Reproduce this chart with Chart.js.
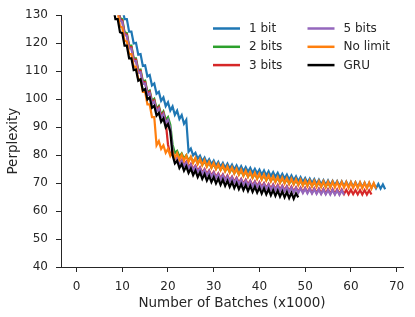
<!DOCTYPE html>
<html>
<head>
<meta charset="utf-8">
<script src="https://cdn.jsdelivr.net/npm/chart.js@4"></script>
<style>
  html, body { margin: 0; padding: 0; background: #fff; }
  #chart { display: block; }
</style>
</head>
<body>
<canvas id="chart" width="415" height="317" style="width:415px;height:317px"></canvas>
<script>
// Batch positions (x1000), shared by every run
const batches = [
    8, 8.5, 9, 9.5, 10, 10.5, 11, 11.5, 12, 12.5,
    13, 13.5, 14, 14.5, 15, 15.5, 16, 16.5, 17, 17.5,
    18, 18.5, 19, 19.5, 20, 20.5, 21, 21.5, 22, 22.5,
    23, 23.5, 24, 24.5, 25, 25.5, 26, 26.5, 27, 27.5,
    28, 28.5, 29, 29.5, 30, 30.5, 31, 31.5, 32, 32.5,
    33, 33.5, 34, 34.5, 35, 35.5, 36, 36.5, 37, 37.5,
    38, 38.5, 39, 39.5, 40, 40.5, 41, 41.5, 42, 42.5,
    43, 43.5, 44, 44.5, 45, 45.5, 46, 46.5, 47, 47.5,
    48, 48.5, 49, 49.5, 50, 50.5, 51, 51.5, 52, 52.5,
    53, 53.5, 54, 54.5, 55, 55.5, 56, 56.5, 57, 57.5,
    58, 58.5, 59, 59.5, 60, 60.5, 61, 61.5, 62, 62.5,
    63, 63.5, 64, 64.5, 65, 65.5, 66, 66.5, 67, 67.5,
    68,
];

// Perplexity per run
const oneBit = [
    142.1, 137.9, 138.1, 133.4, 133.1, 128.6, 128.6, 124.1, 124.1, 119.9,
    120.1, 115.9, 116.1, 111.9, 112.1, 108.1, 108.6, 104.9, 105.6, 101.9,
    102.6, 99.4, 100.6, 97.5, 98.9, 95.9, 97.4, 94.4, 95.9, 92.9,
    94.3, 91.2, 92.6, 81.2, 82.3, 79.9, 80.8, 78.7, 79.8, 77.8,
    79.1, 77.2, 78.5, 76.7, 78, 76.2, 77.6, 75.8, 77.2, 75.4,
    76.9, 75.2, 76.6, 74.8, 76.3, 74.5, 76, 74.2, 75.7, 74,
    75.4, 73.6, 75.1, 73.4, 74.8, 73, 74.5, 72.7, 74.2, 72.4,
    73.9, 72.2, 73.6, 71.8, 73.3, 71.6, 73, 71.2, 72.7, 71,
    72.4, 70.6, 72.1, 70.4, 71.8, 70.1, 71.6, 69.9, 71.4, 69.7,
    71.2, 69.5, 71, 69.3, 70.9, 69.2, 70.8, 69.2, 70.7, 69,
    70.6, 68.9, 70.5, 68.8, 70.4, 68.7, 70.3, 68.6, 70.2, 68.5,
    70.1, 68.4, 70, 68.3, 69.8, 68.1, 69.7, 68, 69.5, 67.8,
];
const twoBits = [
    139.1, 134.4, 134.1, 129.1, 128.6, 123.9, 123.6, 119.1, 119.1, 114.6,
    114.6, 110.4, 110.6, 106.4, 106.6, 102.6, 103.1, 99.4, 100.1, 96.6,
    97.6, 94.4, 95.6, 92.6, 93.6, 90.9, 83.8, 80.7, 81.5, 79.5,
    80.6, 78.7, 79.9, 78, 79.3, 77.5, 78.8, 77, 78.3, 76.5,
    77.8, 76, 77.3, 75.5, 76.8, 75.1, 76.4, 74.7, 76, 74.3,
    75.6, 73.9, 75.2, 73.5, 74.8, 73.1, 74.4, 72.7, 74, 72.3,
    73.6, 71.95, 73.3, 71.65, 73, 71.35, 72.7, 71.05, 72.4, 70.75,
    72.1, 70.45, 71.8, 70.2, 71.6, 70, 71.4, 69.8, 71.2, 69.6,
    71, 69.4, 70.8, 69.2, 70.6, 69.05, 70.5, 68.95, 70.4, 68.85,
    70.3, 68.75, 70.2, 68.65, 70.1, 68.6, 70.1,
];
const threeBits = [
    138.6, 133.9, 133.6, 128.6, 128.1, 123.4, 123.1, 118.6, 118.6, 114.1,
    114.1, 109.9, 110.1, 105.9, 106.1, 102.1, 102.6, 98.9, 99.6, 96.1,
    97.1, 93.9, 95.1, 91.9, 83.8, 80.2, 80.3, 78.4, 79.1, 77.3,
    78.3, 76.4, 77.6, 75.65, 76.9, 74.95, 76.2, 74.3, 75.6, 73.7,
    75, 73.15, 74.5, 72.65, 74, 72.15, 73.5, 71.7, 73.1, 71.3,
    72.7, 70.9, 72.3, 70.5, 71.9, 70.1, 71.5, 69.75, 71.2, 69.45,
    70.9, 69.15, 70.6, 68.85, 70.3, 68.55, 70, 68.25, 69.7, 68,
    69.5, 67.8, 69.3, 67.6, 69.1, 67.4, 68.9, 67.2, 68.7, 67,
    68.5, 66.85, 68.4, 66.75, 68.3, 66.65, 68.2, 66.55, 68.1, 66.45,
    68, 66.35, 67.9, 66.25, 67.8, 66.2, 67.8, 66.15, 67.7, 66.1,
    67.7, 66.05, 67.6, 66, 67.6, 66, 67.5, 65.95, 67.5, 65.9,
    67.5, 65.9, 67.4, 65.9,
];
const fiveBits = [
    138.1, 133.4, 133.1, 128.1, 127.6, 122.9, 122.6, 118.1, 118.1, 113.6,
    113.6, 109.4, 109.6, 105.4, 105.6, 101.6, 102.1, 98.4, 99.1, 95.6,
    96.6, 93.4, 94.6, 91.4, 92.6, 89.4, 81.8, 78.8, 79.1, 77,
    78.1, 76.1, 77.3, 75.35, 76.6, 74.65, 75.9, 74, 75.3, 73.4,
    74.7, 72.85, 74.2, 72.35, 73.7, 71.85, 73.2, 71.4, 72.8, 71,
    72.4, 70.6, 72, 70.2, 71.6, 69.8, 71.2, 69.45, 70.9, 69.15,
    70.6, 68.85, 70.3, 68.55, 70, 68.25, 69.7, 67.95, 69.4, 67.7,
    69.2, 67.5, 69, 67.3, 68.8, 67.1, 68.6, 66.9, 68.4, 66.7,
    68.2, 66.55, 68.1, 66.45, 68, 66.35, 67.9, 66.25, 67.8, 66.15,
    67.7, 66.05, 67.6, 65.95, 67.5, 65.9, 67.5, 65.85, 67.4, 65.8,
    67.4, 65.8,
];
const noLimit = [
    137.1, 131.9, 131.1, 126.1, 125.6, 120.9, 120.6, 116.1, 116.1, 111.6,
    111.6, 107.1, 107.1, 102.6, 102.6, 98.1, 98.1, 93.6, 93.6, 83.5,
    85, 82.2, 83.5, 80.8, 82.2, 79.7, 81.3, 79, 80.7, 78.4,
    80.2, 78, 79.8, 77.6, 79.4, 77.2, 79, 76.8, 78.6, 76.4,
    78.2, 75.9, 77.6, 75.4, 77.2, 75, 76.8, 74.6, 76.4, 74.2,
    76, 73.8, 75.6, 73.4, 75.2, 73, 74.8, 72.6, 74.4, 72.2,
    74, 71.85, 73.7, 71.55, 73.4, 71.25, 73.1, 70.95, 72.8, 70.65,
    72.5, 70.35, 72.2, 70.1, 72, 69.9, 71.8, 69.7, 71.6, 69.5,
    71.4, 69.3, 71.2, 69.1, 71, 68.95, 70.9, 68.85, 70.8, 68.75,
    70.7, 68.65, 70.6, 68.55, 70.5, 68.5, 70.5, 68.45, 70.4, 68.4,
    70.4, 68.35, 70.3, 68.3, 70.3, 68.25, 70.2, 68.2, 70.2, 68.15,
    70.1, 68.1, 70.1, 68.05, 70, 68,
];
const gru = [
    133.1, 128.6, 128.6, 123.9, 123.6, 119.1, 119.1, 114.6, 114.6, 110.4,
    110.6, 106.6, 107.1, 103.1, 103.6, 99.9, 100.6, 96.9, 97.6, 94.1,
    95.1, 91.9, 93.1, 89.9, 91.1, 88.4, 80, 77, 78, 75.4,
    76.8, 74.4, 76, 73.6, 75.2, 72.85, 74.5, 72.15, 73.8, 71.5,
    73.2, 70.9, 72.6, 70.35, 72.1, 69.85, 71.6, 69.4, 71.2, 69,
    70.8, 68.6, 70.4, 68.2, 70, 67.8, 69.6, 67.45, 69.3, 67.15,
    69, 66.85, 68.7, 66.55, 68.4, 66.25, 68.1, 65.95, 67.8, 65.65,
    67.5, 65.4, 67.3, 65.15, 67, 64.9, 66.8, 64.65, 66.5, 64.4,
    66.3, 64.9,
];

const seriesNames = ["1 bit", "2 bits", "3 bits", "5 bits", "No limit", "GRU"];
const seriesValues = [oneBit, twoBits, threeBits, fiveBits, noLimit, gru];
const seriesColors = ["#1f77b4", "#2ca02c", "#d62728", "#9467bd", "#ff7f0e", "#000000"];

const xTicks = [0, 10, 20, 30, 40, 50, 60, 70];
const yTicks = [40, 50, 60, 70, 80, 90, 100, 110, 120, 130];

const inkColor = "#262626";
Chart.defaults.font.family = '"DejaVu Sans", sans-serif';

// matplotlib-like legend: two columns, filled column by column
const columnLegend = {
    id: "columnLegend",
    afterDraw(chart) {
        const ctx = chart.ctx;
        ctx.save();
        ctx.font = '12px "DejaVu Sans", sans-serif';
        ctx.textBaseline = "middle";
        ctx.textAlign = "left";
        seriesNames.forEach((name, i) => {
            const col = Math.floor(i / 3);
            const row = i % 3;
            const x = 213 + col * 94.5;
            const y = 28.5 + row * 18.3;
            ctx.strokeStyle = seriesColors[i];
            ctx.lineWidth = 2.5;
            ctx.beginPath();
            ctx.moveTo(x, y);
            ctx.lineTo(x + 27, y);
            ctx.stroke();
            ctx.fillStyle = inkColor;
            ctx.fillText(name, x + 36, y + 0.5);
        });
        ctx.restore();
    },
};

const datasets = seriesNames.map((name, i) => ({
    label: name,
    data: seriesValues[i].map((v, j) => ({ x: batches[j], y: v })),
    borderColor: seriesColors[i],
    backgroundColor: seriesColors[i],
    borderWidth: 2.2,
    pointRadius: 0,
    tension: 0,
    fill: false,
    // later runs sit on top, as in the original plot
    order: seriesNames.length - 1 - i,
}));

new Chart(document.getElementById("chart"), {
    type: "line",
    data: { datasets: datasets },
    options: {
        responsive: false,
        animation: false,
        devicePixelRatio: 1,
        layout: { padding: { left: 0, right: 12, top: 13, bottom: 0 } },
        plugins: {
            legend: { display: false },
            tooltip: { enabled: false },
        },
        scales: {
            x: {
                type: "linear",
                min: -3.4,
                max: 71.4,
                afterBuildTicks: (axis) => {
                    axis.ticks = xTicks.map((v) => ({ value: v }));
                },
                afterFit: (axis) => {
                    axis.height = 50;
                },
                grid: {
                    drawOnChartArea: false,
                    drawTicks: true,
                    tickLength: 5,
                    tickColor: inkColor,
                    tickWidth: 1,
                },
                border: { display: true, color: inkColor, width: 1 },
                ticks: {
                    color: inkColor,
                    font: { size: 12 },
                    padding: 8,
                    maxRotation: 0,
                },
                title: {
                    display: true,
                    text: "Number of Batches (x1000)",
                    color: inkColor,
                    font: { size: 13.5 },
                    padding: { top: 0, bottom: 5 },
                },
            },
            y: {
                type: "linear",
                min: 40,
                max: 130,
                afterBuildTicks: (axis) => {
                    axis.ticks = yTicks.map((v) => ({ value: v }));
                },
                afterFit: (axis) => {
                    axis.width = 61;
                },
                grid: {
                    drawOnChartArea: false,
                    drawTicks: true,
                    tickLength: 5,
                    tickColor: inkColor,
                    tickWidth: 1,
                },
                border: { display: true, color: inkColor, width: 1 },
                ticks: {
                    color: inkColor,
                    font: { size: 12 },
                    padding: 8,
                },
                title: {
                    display: true,
                    text: "Perplexity",
                    color: inkColor,
                    font: { size: 13.5 },
                    padding: { top: 5, bottom: 0 },
                },
            },
        },
    },
    plugins: [columnLegend],
});
</script>
</body>
</html>
